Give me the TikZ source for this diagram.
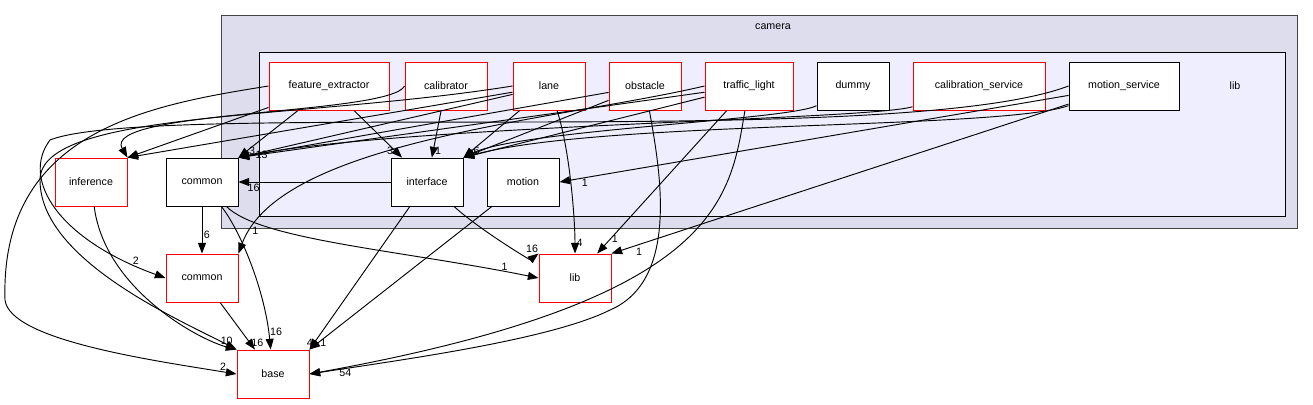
\documentclass[tikz,border=0pt]{standalone}
\usepackage{fontspec}
\setmainfont{Liberation Sans}
\usetikzlibrary{arrows.meta}
\begin{document}
\begin{tikzpicture}[x=0.75pt,y=-0.75pt,line width=0.7pt,
 box/.style={draw=black,fill=white,minimum height=36pt,inner sep=0pt,font=\fontsize{8}{9}\selectfont},
 rbox/.style={box,draw=red},
 e/.style={-{Triangle[length=8pt,width=6pt]},black},
 lab/.style={font=\fontsize{8}{9}\selectfont,inner sep=1pt}]
\useasboundingbox (0,0) rectangle (1313,404);
\draw[fill={rgb,255:red,221;green,221;blue,238},draw={rgb,255:red,68;green,68;blue,68}] (221,15) rectangle (1297,228);
\node[lab] at (773,27) {camera};
\draw[fill={rgb,255:red,238;green,238;blue,255},draw=black] (259,52) rectangle (1285,216);
\node[lab] at (1235,86) {lib};
\node[rbox,minimum width=90pt] (fe) at (329,86) {feature\_extractor};
\node[rbox,minimum width=61.5pt] (cal) at (446,86) {calibrator};
\node[rbox,minimum width=54pt] (lane) at (549,86) {lane};
\node[rbox,minimum width=54pt] (obs) at (645,86) {obstacle};
\node[rbox,minimum width=66pt] (tl) at (749,86) {traffic\_light};
\node[box,minimum width=54pt] (dum) at (853,86) {dummy};
\node[rbox,minimum width=99pt] (cs) at (979,86) {calibration\_service};
\node[box,minimum width=82.5pt] (ms) at (1124,86) {motion\_service};
\node[rbox,minimum width=54pt] (inf) at (91,182) {inference};
\node[box,minimum width=54pt] (com) at (202,182) {common};
\node[box,minimum width=54pt] (itf) at (427,182) {interface};
\node[box,minimum width=54pt] (mot) at (523,182) {motion};
\node[rbox,minimum width=54pt] (comR) at (202,278) {common};
\node[rbox,minimum width=54pt] (libR) at (575,278) {lib};
\node[rbox,minimum width=54pt] (base) at (273,374) {base};
% top row -> second row
\draw[e] (fe) -- (inf.north east);
\draw[e] (fe) -- node[lab,pos=0.85,right]{3} (com.north east);
\draw[e] (fe) -- node[lab,pos=0.85,left]{3} (itf);
\draw[e] (fe.west) .. controls (150,105) and (0,130) .. (5,300) .. controls (10,340) and (150,360) .. node[lab,pos=0.95,above]{2} (base.west);
\draw[e] (cal) -- node[lab,pos=0.85,right]{1} (itf);
\draw[e] (cal.west) .. controls (390,115) and (100,110) .. (inf.north east);
\draw[e] (lane) -- (com.north east);
\draw[e] (lane) -- (inf.north east);
\draw[e] (lane) -- node[lab,pos=0.85,right]{6} (itf.north east);
\draw[e] (lane) .. controls (570,150) and (575,220) .. node[lab,pos=0.9,right]{4} (libR);
\draw[e] (lane.west) .. controls (300,120) and (40,110) .. (40,180) .. controls (40,260) and (180,320) .. (base.north west);
\draw[e] (obs) -- (com.north east);
\draw[e] (obs) -- (itf.north east);
\draw[e] (obs) .. controls (660,170) and (680,280) .. (610,310) .. controls (550,340) and (400,360) .. (base.east);
\draw[e] (tl) -- (com.north east);
\draw[e] (tl) -- (itf.north east);
\draw[e] (tl) -- node[lab,pos=0.9,right]{1} (libR);
\draw[e] (tl) .. controls (730,200) and (720,300) .. node[lab,pos=0.97,below]{54} (base.east);
\draw[e] (tl.west) .. controls (560,120) and (280,140) .. node[lab,pos=0.93,right]{1} (comR.north east);
\draw[e] (dum) .. controls (790,120) and (520,130) .. (itf.north east);
\draw[e] (cs) .. controls (870,120) and (400,125) .. node[lab,pos=0.97,right]{13} (com.north east);
\draw[e] (ms) .. controls (1000,130) and (600,120) .. (itf.north east);
\draw[e] (ms) -- node[lab,pos=0.95,below]{1} (mot.east);
\draw[e] (ms) -- node[lab,pos=0.95,below right]{1} (libR.north east);
\draw[e] (ms.west) .. controls (900,150) and (150,100) .. (50,140) .. controls (20,180) and (60,240) .. node[lab,pos=0.9,above]{2} (comR.west);
% second row
\draw[e] (itf) -- node[lab,pos=0.9,below]{16} (com);
\draw[e] (itf) .. controls (480,230) and (530,260) .. node[lab,pos=0.85,above]{16} (libR.north west);
\draw[e] (itf) -- node[lab,pos=0.95,left]{4} (base.north east);
\draw[e] (mot) -- node[lab,pos=0.95,right]{1} (base.north east);
\draw[e] (com) -- node[lab,pos=0.6,right]{6} (comR);
\draw[e] (com) .. controls (240,230) and (265,290) .. node[lab,pos=0.9,right]{16} (base);
\draw[e] (com) .. controls (260,240) and (400,250) .. node[lab,pos=0.93,above left]{1} (libR.west);
\draw[e] (inf) .. controls (105,290) and (200,340) .. node[lab,pos=0.92,above]{10} (base.north west);
\draw[e] (comR) -- node[lab,pos=0.85,right]{16} (base);
\end{tikzpicture}
\end{document}
